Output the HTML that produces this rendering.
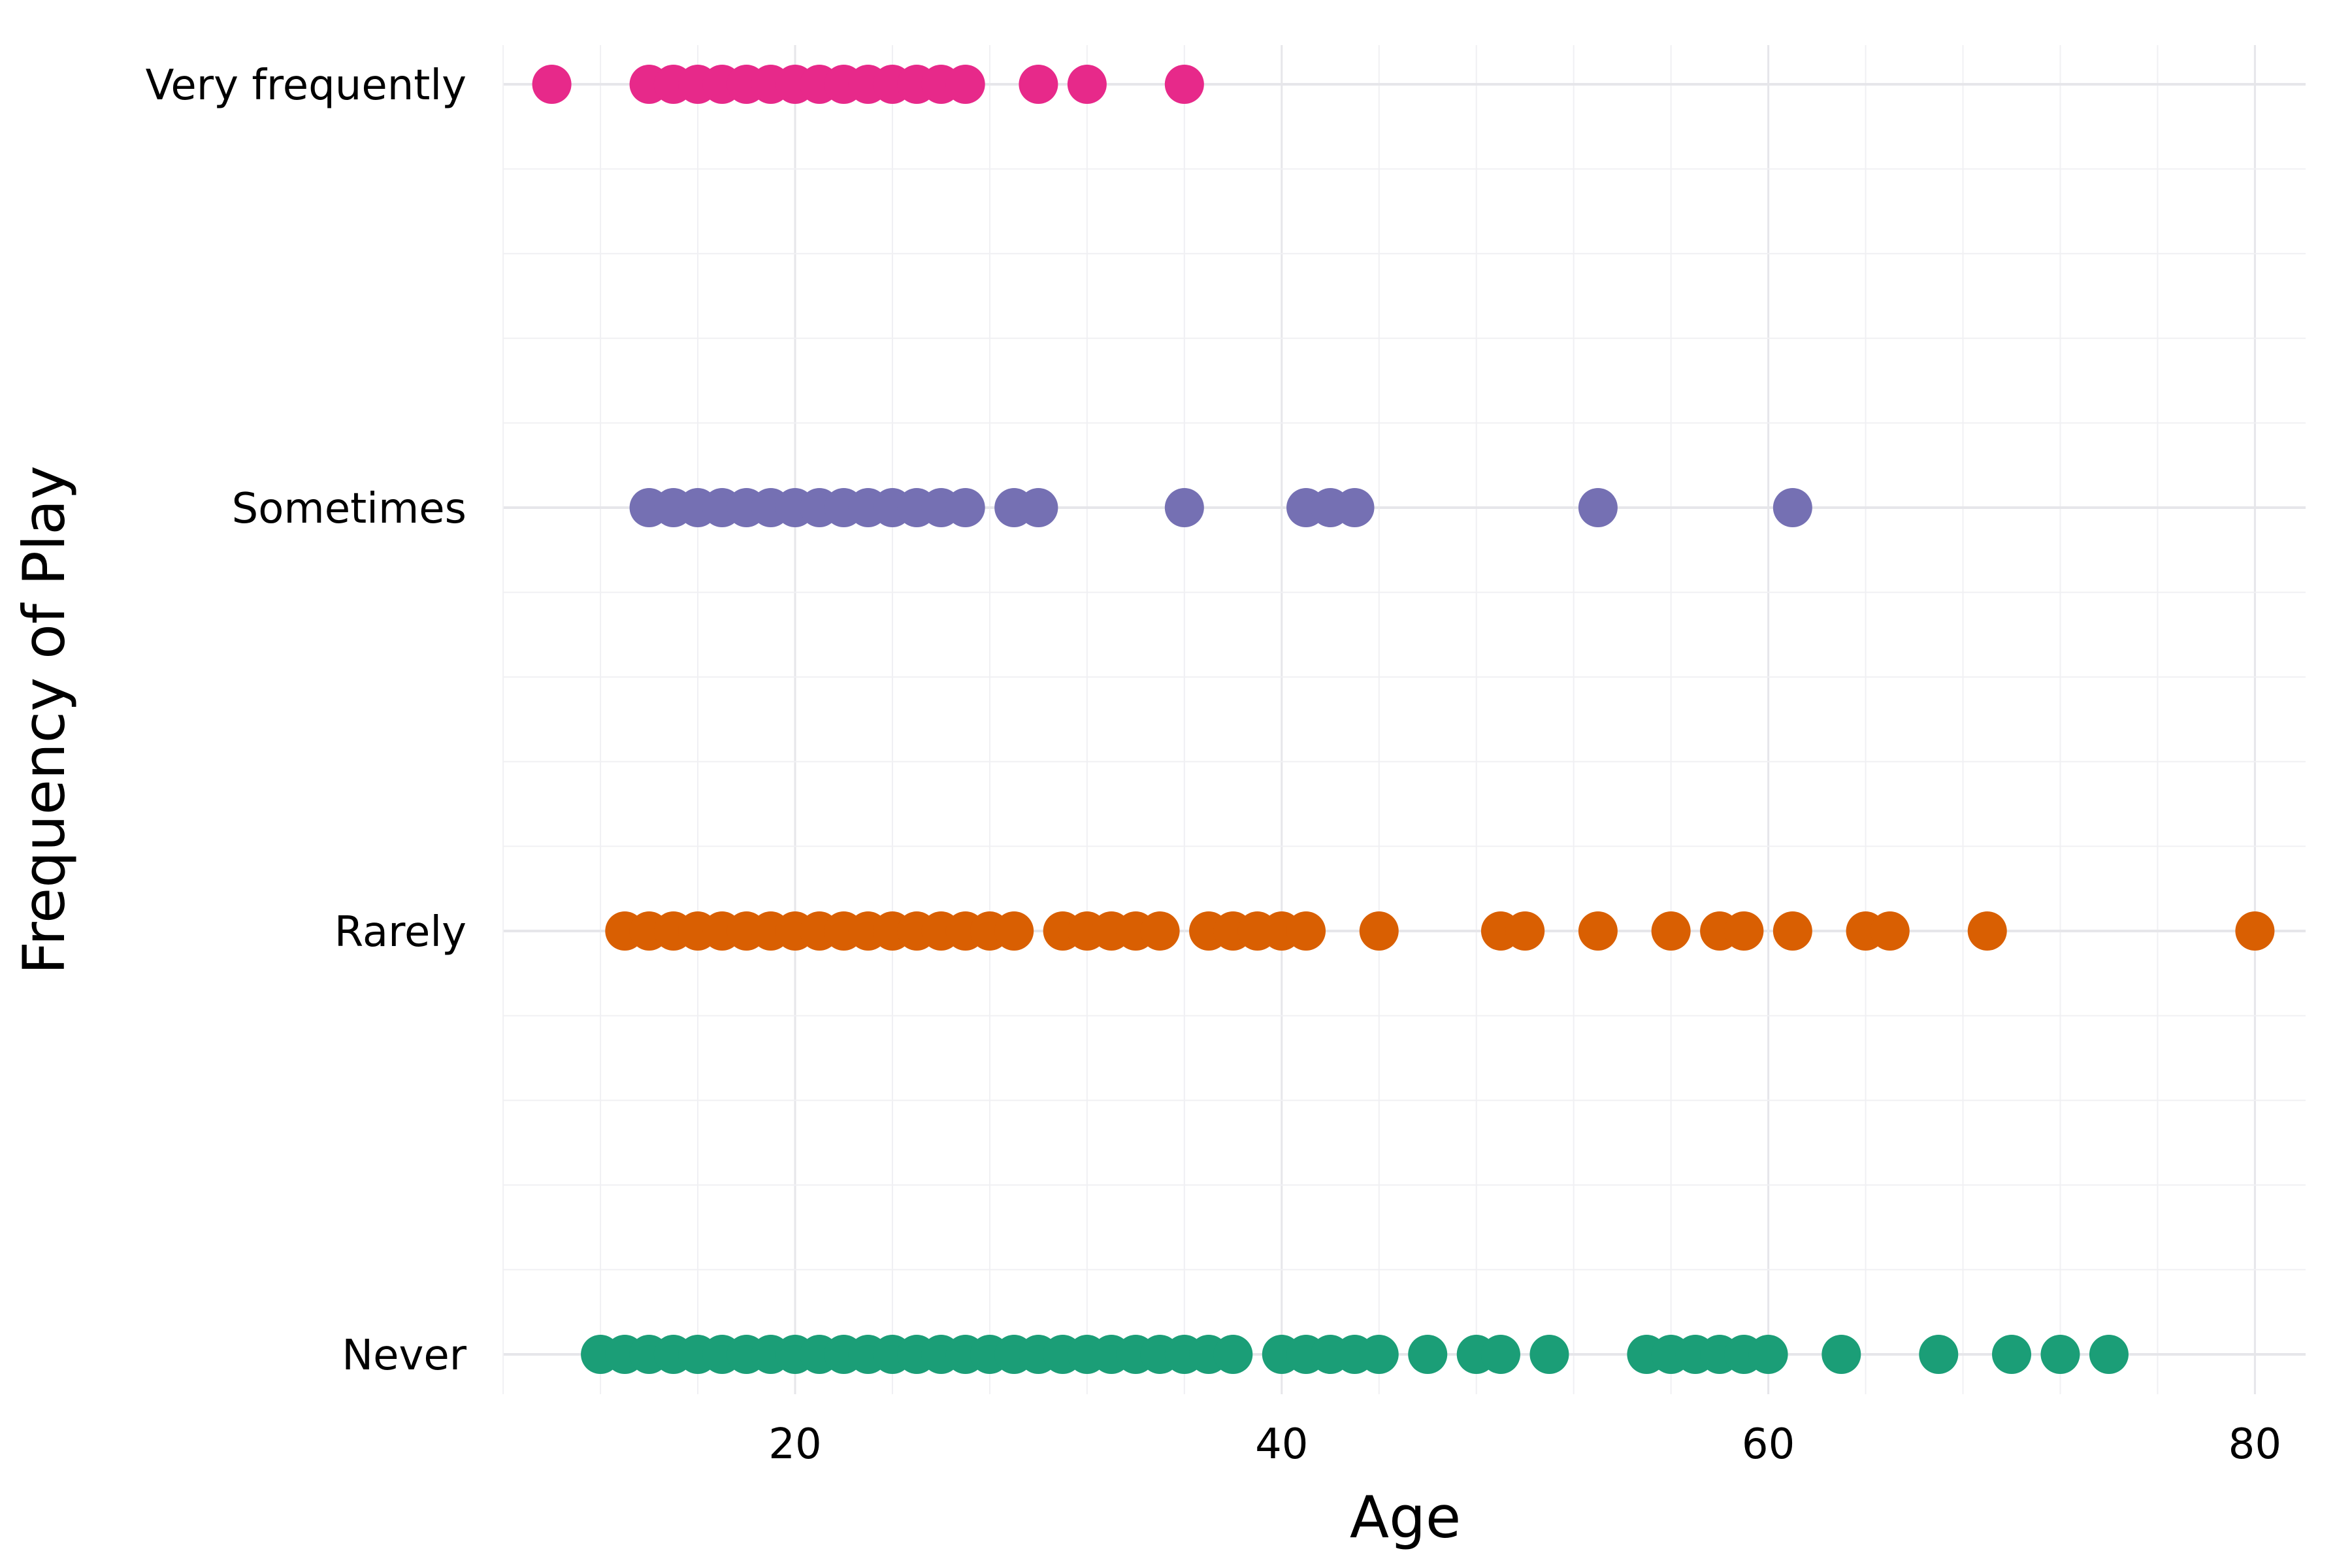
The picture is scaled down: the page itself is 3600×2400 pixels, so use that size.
<!DOCTYPE html>
<html><head><meta charset="utf-8"><style>
html,body{margin:0;padding:0;background:#fff}
svg{display:block;font-family:"DejaVu Sans","Liberation Sans",sans-serif}
</style></head><body>
<svg id="chart" width="3600" height="2400" viewBox="0 0 3600 2400" xmlns="http://www.w3.org/2000/svg">
<g id="grid"></g>
<g id="points"></g>
<g id="axes"></g>
<text x="2151" y="2353" font-size="88" text-anchor="middle">Age</text>
<text transform="translate(98,1102) rotate(-90)" font-size="88" text-anchor="middle">Frequency of Play</text>
</svg>
<script>
const categories = ["Never", "Rarely", "Sometimes", "Very frequently"];
const colors = ["#1b9e77", "#d95f02", "#7570b3", "#e7298a"];
const neverAges = [12,13,14,15,16,17,18,19,20,21,22,23,24,25,26,27,28,29,30,31,32,33,34,35,36,37,38,40,41,42,43,44,46,48,49,51,55,56,57,58,59,60,63,67,70,72,74];
const rarelyAges = [13,14,15,16,17,18,19,20,21,22,23,24,25,26,27,28,29,31,32,33,34,35,37,38,39,40,41,44,49,50,53,56,58,59,61,64,65,69,80];
const sometimesAges = [14,15,16,17,18,19,20,21,22,23,24,25,26,27,29,30,36,41,42,43,53,61];
const veryFrequentlyAges = [10,14,15,16,17,18,19,20,21,22,23,24,25,26,27,30,32,36];
const xTicks = [20, 40, 60, 80];
const series = [neverAges, rarelyAges, sometimesAges, veryFrequentlyAges];

const NS = "http://www.w3.org/2000/svg";
const panel = {left: 771, right: 3529, top: 69, bottom: 2134};
function xScale(a){ return 1217 + (a - 20) * 37.24; }
function yScale(i){ return 2073 - i * 648; }

const grid = document.getElementById('grid');
function line(x1,y1,x2,y2,stroke,w){
  const l = document.createElementNS(NS,'line');
  l.setAttribute('x1',x1);l.setAttribute('y1',y1);l.setAttribute('x2',x2);l.setAttribute('y2',y2);
  l.setAttribute('stroke',stroke);l.setAttribute('stroke-width',w);
  return l;
}
for (let a = 8; a <= 82; a += 4) {
  const major = xTicks.includes(a);
  const l = line(xScale(a), panel.top, xScale(a), panel.bottom, major ? "#e6e6ea" : "#f0f0f3", major ? 3 : 2);
  
  
  grid.appendChild(l);
}
for (let k = -0.4; k <= 3.41; k += 0.2) {
  const kk = Math.round(k * 10) / 10;
  const major = Math.abs(kk - Math.round(kk)) < 0.01 && kk >= 0 && kk <= 3;
  const y = yScale(kk);
  if (y < panel.top || y > panel.bottom) continue;
  const l = line(panel.left, y, panel.right, y, major ? "#e6e6ea" : "#f0f0f3", major ? 4 : 2);
  
  
  grid.appendChild(l);
}

const pts = document.getElementById('points');
series.forEach((ages, i) => {
  ages.forEach(a => {
    const c = document.createElementNS(NS,'circle');
    c.setAttribute('cx', xScale(a));
    c.setAttribute('cy', yScale(i));
    c.setAttribute('r', 30);
    c.setAttribute('fill', colors[i]);
    
    
    pts.appendChild(c);
  });
});

const axes = document.getElementById('axes');
xTicks.forEach(t => {
  const tx = document.createElementNS(NS,'text');
  tx.setAttribute('x', xScale(t));
  tx.setAttribute('y', 2232);
  tx.setAttribute('font-size', 64);
  tx.setAttribute('text-anchor', 'middle');
  tx.setAttribute('fill', '#000');
  tx.textContent = t;
  
  
  axes.appendChild(tx);
});
categories.forEach((c, i) => {
  const tx = document.createElementNS(NS,'text');
  tx.setAttribute('x', 714);
  tx.setAttribute('y', yScale(i) + 23);
  tx.setAttribute('font-size', 64);
  tx.setAttribute('text-anchor', 'end');
  tx.setAttribute('fill', '#000');
  tx.textContent = c;
  
  
  axes.appendChild(tx);
});
</script>
</body></html>
